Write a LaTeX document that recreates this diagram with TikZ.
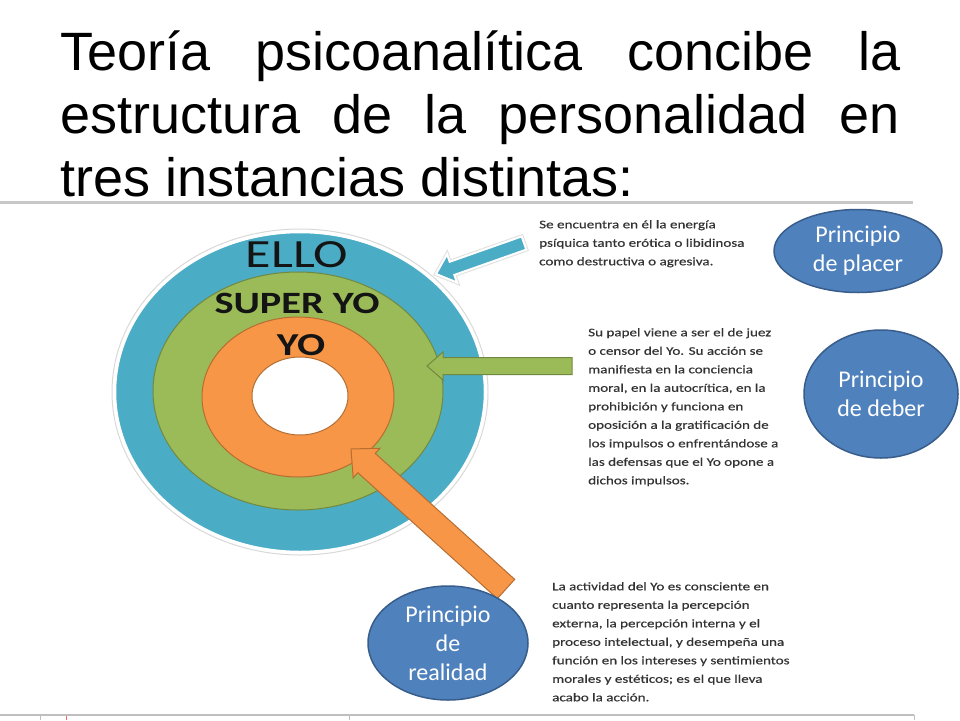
\documentclass[tikz,border=0pt]{standalone}
\usepackage{fontspec}
\setmainfont{Carlito}
\newfontfamily\titlefont{Liberation Sans}
\newfontfamily\widefont[FakeStretch=1.3]{Carlito}
\newfontfamily\notefont[FakeStretch=1.3, FakeBold=0.4]{Carlito}
\usetikzlibrary{positioning, shapes.geometric, calc}

\definecolor{elloblue}{HTML}{4BACC6}
\definecolor{superyogreen}{HTML}{9BBB59}
\definecolor{superyoedge}{HTML}{71893F}
\definecolor{yoorange}{HTML}{F79646}
\definecolor{yoedge}{HTML}{B66D31}
\definecolor{bubblefill}{HTML}{4F81BD}
\definecolor{bubbleedge}{HTML}{385D8A}
\definecolor{notetext}{HTML}{333333}

\tikzset{
  bubble/.style={ellipse, fill=bubblefill, draw=bubbleedge, line width=1.5pt, text=white, align=center, inner sep=0pt, font=\fontsize{24}{29}\selectfont},
  note/.style={anchor=north west, inner sep=0pt, align=left, text=notetext, font=\notefont\fontsize{11.6}{18.5}\selectfont},
  ringlabel/.style={anchor=base, inner sep=0pt, text=black!92, font=\widefont\bfseries\fontsize{31}{31}\selectfont},
  titleline/.style={anchor=base west, inner sep=0pt, font=\titlefont\fontsize{54}{64}\selectfont},
}

% block arrow: style, tail, tip, half shaft, half head, head length
\newcommand{\blockarrow}[6]{%
  \coordinate (ab) at ($(#3)!#6!(#2)$);
  \path[#1] ($(#2)!#4!90:(#3)$) -- ($(ab)!#4!-90:(#2)$) -- ($(ab)!#5!-90:(#2)$) -- (#3)
    -- ($(ab)!#5!90:(#2)$) -- ($(ab)!#4!90:(#2)$) -- ($(#2)!#4!-90:(#3)$) -- cycle;
}

\begin{document}
\begin{tikzpicture}[x=1pt, y=-1pt]
                \fill[white] (0,0) rectangle (960,720);
                \useasboundingbox (0,0) rectangle (960,720);

                % Title
                \node[titleline] (title1) at (60,70) {\makebox[840pt][s]{Teoría psicoanalítica concibe la}};
                \node[titleline] (title2) at (60,133) {\makebox[840pt][s]{estructura de la personalidad en}};
                \node[titleline] (title3) at (60,196) {tres instancias distintas:};

                % Frame of the pasted picture
                \draw[black!22, line width=3pt] (0,202) -- (913,202);
                \draw[black!25, line width=2pt] (0,715) -- (914,715);
                \draw[black!25] (40,715) -- (40,720);
                \draw[red!60] (66,716) -- (66,720);
                \draw[black!25] (349,715) -- (349,720);
                \draw[black!25] (914,715) -- (914,720);

                % Rings
                \draw[black!15, line width=1pt] (300,392) ellipse [x radius=188, y radius=163];
                \filldraw[fill=elloblue, draw=white, line width=2.5pt] (300,392) ellipse [x radius=185, y radius=160];
                \filldraw[fill=superyogreen, draw=superyoedge, line width=1pt] (298,391) ellipse [x radius=145, y radius=119];
                \filldraw[fill=yoorange, draw=yoedge, line width=1pt] (298,397) ellipse [x radius=96, y radius=80];
                \filldraw[fill=white, draw=yoedge, line width=1pt] (300,396) ellipse [x radius=48, y radius=39];

                \node[ringlabel, font=\widefont\fontsize{40}{40}\selectfont] (elloLabel) at (297,267) {ELLO};
                \node[ringlabel] (superyoLabel) at (297,313) {SUPER YO};
                \node[ringlabel, font=\widefont\bfseries\fontsize{32}{32}\selectfont] (yoLabel) at (301,355) {YO};

                % Arrows
                \coordinate (elloTail) at (524,243);
                \coordinate (elloTip) at (436,274);
                \coordinate (superyoTail) at (572,366);
                \coordinate (superyoTip) at (427,366);
                \coordinate (yoTail) at (506,589);
                \coordinate (yoTip) at (351,449);
                \blockarrow{draw=black!12, line width=4pt, line join=miter}{elloTail}{elloTip}{7pt}{15pt}{17pt}
                \blockarrow{fill=elloblue, draw=white, line width=2pt}{elloTail}{elloTip}{7pt}{15pt}{17pt}
                \blockarrow{fill=superyogreen, draw=superyoedge, line width=1pt}{superyoTail}{superyoTip}{8.5pt}{14pt}{16pt}
                \blockarrow{fill=yoorange, draw=yoedge, line width=1pt}{yoTail}{yoTip}{13pt}{20pt}{21pt}

                % Notes
                \node[note] (elloNote) at (539,220) {Se encuentra en él la energía\\psíquica tanto erótica o libidinosa\\como destructiva o agresiva.};
                \node[note] (superyoNote) at (588,328) {Su papel viene a ser el de juez\\o censor del Yo. Su acción se\\manifiesta en la conciencia\\moral, en la autocrítica, en la\\prohibición y funciona en\\oposición a la gratificación de\\los impulsos o enfrentándose a\\las defensas que el Yo opone a\\dichos impulsos.};
                \node[note] (yoNote) at (552,582) {La actividad del Yo es consciente en\\cuanto representa la percepción\\externa, la percepción interna y el\\proceso intelectual, y desempeña una\\función en los intereses y sentimientos\\morales y estéticos; es el que lleva\\acabo la acción.};

                % Principles
                \node[bubble, minimum width=168pt, minimum height=83pt] (placer) at (858,251) {Principio\\de placer};
                \node[bubble, minimum width=154pt, minimum height=128pt] (deber) at (881,394) {Principio\\de deber};
                \node[bubble, minimum width=160pt, minimum height=114pt] (realidad) at (448,643) {Principio\\de\\realidad};
            \end{tikzpicture}
\end{document}
